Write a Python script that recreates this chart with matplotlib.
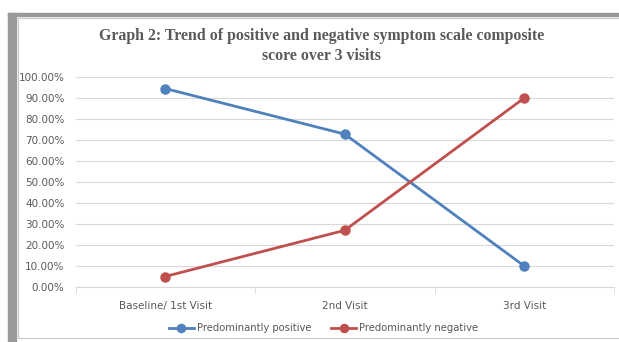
import numpy as np
import matplotlib.pyplot as plt
from matplotlib.patches import Rectangle
from matplotlib.ticker import PercentFormatter

# data
visits = ['Baseline/ 1st Visit', '2nd Visit', '3rd Visit']
positive = [94.5, 72.8, 10.0]
negative = [5.0, 27.0, 90.0]
y_ticks = np.arange(0, 101, 10)

blue = '#4f81bd'
red = '#c0504d'
grey_txt = '#595959'

fig = plt.figure(figsize=(6.19, 3.42), dpi=100)

# frame / shadow around the chart
fig.patches.append(Rectangle((8/619, 0), 8/619, 1 - 13/342, transform=fig.transFigure,
                             color='#9a9a9a', zorder=-2))
fig.patches.append(Rectangle((8/619, 1 - 16/342), 1, 3/342, transform=fig.transFigure,
                             color='#9a9a9a', zorder=-2))
fig.patches.append(Rectangle((18/619, 4/342), 1, 1 - 22/342, transform=fig.transFigure,
                             facecolor='white', edgecolor='#c8c8c8', lw=0.8, zorder=-1))

ax = fig.add_axes([75.5/619, 1 - 287/342, (614 - 75.5)/619, 210/342])
ax.set_zorder(1)
ax.patch.set_alpha(0)
x = np.arange(len(visits))
ax.plot(x, positive, color=blue, lw=2.0, marker='o', ms=6.5, label='Predominantly positive', zorder=3)
ax.plot(x, negative, color=red, lw=2.0, marker='o', ms=6.5, label='Predominantly negative', zorder=3)

ax.set_xlim(-0.5, 2.5)
ax.set_ylim(0, 100)
ax.set_yticks(y_ticks)
ax.yaxis.set_major_formatter(PercentFormatter(decimals=2))
ax.set_xticks(x)
ax.set_xticklabels(visits)
ax.set_xticks([-0.5, 0.5, 1.5, 2.5], minor=True)
ax.tick_params(axis='x', which='major', length=0, pad=10, labelsize=7.5, labelcolor=grey_txt)
ax.tick_params(axis='x', which='minor', length=4, color='#d9d9d9')
ax.tick_params(axis='y', length=0, pad=8, labelsize=7.5, labelcolor=grey_txt)
ax.grid(axis='y', color='#d9d9d9', lw=0.8)
ax.set_axisbelow(True)
for s in ['top', 'right', 'left']:
    ax.spines[s].set_visible(False)
ax.spines['bottom'].set_color('#d9d9d9')

fig.text(0.52, 1 - 46/342, 'Graph 2: Trend of positive and negative symptom scale composite\nscore over 3 visits',
         ha='center', va='center', family='Liberation Serif', weight='bold', fontsize=11.4,
         color=grey_txt, linespacing=1.35)

fig.legend(loc='center', bbox_to_anchor=(0.523, 1 - 328/342), ncol=2, frameon=False,
           fontsize=7.2, labelcolor=grey_txt, handlelength=2.5, columnspacing=2.0,
           handletextpad=0.3, markerscale=0.9)

fig.savefig('out.png', dpi=100)
